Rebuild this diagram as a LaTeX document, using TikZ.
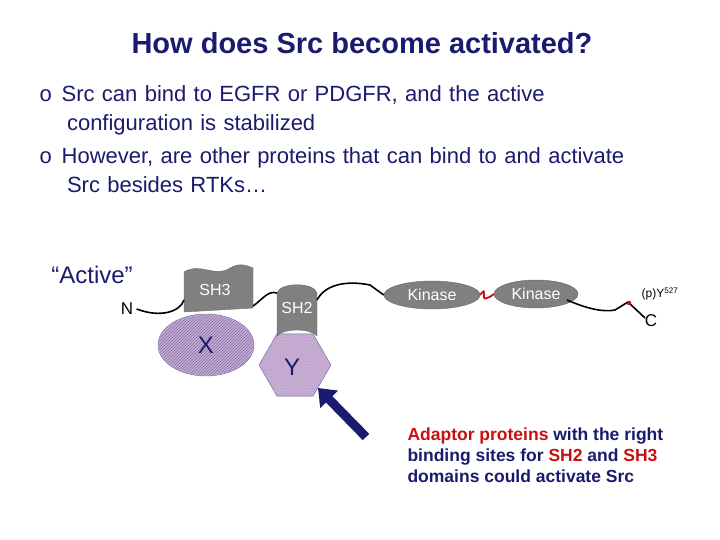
\documentclass[tikz,border=0pt]{standalone}
\usepackage{fontspec}
\setmainfont{Liberation Sans}
\usetikzlibrary{shapes.geometric,patterns,arrows.meta}
\definecolor{navy}{RGB}{26,26,110}
\definecolor{adred}{RGB}{200,16,16}
\definecolor{domgray}{RGB}{128,128,128}
\definecolor{bindpurple}{RGB}{190,150,200}
\tikzset{
  domainbox/.style={fill=domgray,draw=black!60,text=white,font=\fontsize{16}{16}\selectfont},
  partner/.style={draw=navy!70,fill=bindpurple,pattern color=navy!80,text=navy,font=\fontsize{22}{22}\selectfont},
  chain/.style={line width=1.6pt,black},
  bullet/.style={anchor=north west,text=navy,font=\fontsize{22}{29}\selectfont,align=left,text width=680pt}
}
\begin{document}
\begin{tikzpicture}[x=1pt,y=-1pt]
  \useasboundingbox (0,0) rectangle (720,540);

  \node[text=navy,font=\bfseries\fontsize{29}{29}\selectfont] (title) at (362,43) {How does Src become activated?};
  % bullets
  \node[bullet] (b1) at (36,82) {o\hspace{0.45em}Src can bind to EGFR or PDGFR, and the active\\\hspace{1.25em}configuration is stabilized};
  \node[bullet] (b2) at (36,144) {o\hspace{0.45em}However, are other proteins that can bind to and activate\\\hspace{1.25em}Src besides RTKs\ldots};

  \node[text=navy,font=\fontsize{24}{24}\selectfont] (active) at (92,275) {``Active''};
  \node[font=\fontsize{17}{17}\selectfont] (nterm) at (127,309) {N};

  % binding partners
  \node[partner,ellipse,minimum width=96pt,minimum height=62pt,fill=bindpurple!80] (X) at (206,345) {};
  \fill[pattern=north east lines,pattern color=navy!60] (206,345) ellipse [x radius=47pt,y radius=30pt];
  \node[text=navy,font=\fontsize{24}{24}\selectfont] (Xl) at (206,345) {X};
  \node[partner,regular polygon,regular polygon sides=6,minimum size=72pt,fill=bindpurple!80] (Y) at (295,365) {};
  \fill[pattern=crosshatch dots,pattern color=navy!40] (Y.corner 1) -- (Y.corner 2) -- (Y.corner 3) -- (Y.corner 4) -- (Y.corner 5) -- (Y.corner 6) -- cycle;
  \node[text=navy,font=\fontsize{24}{24}\selectfont] (Yl) at (292,367) {Y};

  % SH3 with wavy top
  \draw[domainbox] (184,312) -- (184,272) .. controls (200,262) and (215,278) .. (230,268)
    .. controls (240,262) and (248,266) .. (253,268) -- (253,308) -- cycle;
  \node[text=white,font=\fontsize{16}{16}\selectfont] (sh3) at (215,290) {SH3};
  % SH2 barrel
  \draw[domainbox] (277,336) -- (277,293) .. controls (280,282) and (314,282) .. (317,293) -- (317,336)
    .. controls (310,328) and (284,328) .. (277,336) -- cycle;
  \node[text=white,font=\fontsize{16}{16}\selectfont] (sh2) at (297,308) {SH2};
  % kinase lobes
  \node[domainbox,ellipse,minimum width=96pt,minimum height=28pt] (kin1) at (432,295) {Kinase};
  \node[domainbox,ellipse,minimum width=84pt,minimum height=28pt] (kin2) at (536,294) {Kinase};

  % chain
  \coordinate (ctail) at (645,318);
  \draw[chain] (nterm.east) .. controls (160,318) and (180,312) .. (184,300);
  \draw[chain] (253,306) .. controls (262,300) and (268,290) .. (277,293);
  \draw[chain] (317,300) .. controls (325,285) and (345,280) .. (370,285) -- (kin1.west);
  \draw[adred,line width=1.8pt] (kin1.east) .. controls (488,284) and (480,302) .. (487,298)
    .. controls (490,297) .. (kin2.west);
  \draw[chain] (567,300) .. controls (590,310) and (605,312) .. (615,310) -- (628,302) -- (ctail);
  \fill[adred] (629,303) circle (2.2pt);
  \node[font=\fontsize{17}{17}\selectfont] (cterm) at (651,321) {C};
  \node[font=\fontsize{12}{12}\selectfont] (py) at (660,294) {(p)Y\textsuperscript{527}};

  % arrow
  \coordinate (arrtail) at (366,437);
  \draw[navy,line width=9pt,-{Triangle[length=16pt,width=24pt]}] (arrtail) -- (Y.south east);

  \node[anchor=north west,align=left,font=\bfseries\fontsize{17.5}{21}\selectfont,text=navy] (caption) at (404,424)
    {\textcolor{adred}{Adaptor proteins} with the right\\binding sites for \textcolor{adred}{SH2} and \textcolor{adred}{SH3}\\domains could activate Src};
\end{tikzpicture}
\end{document}
